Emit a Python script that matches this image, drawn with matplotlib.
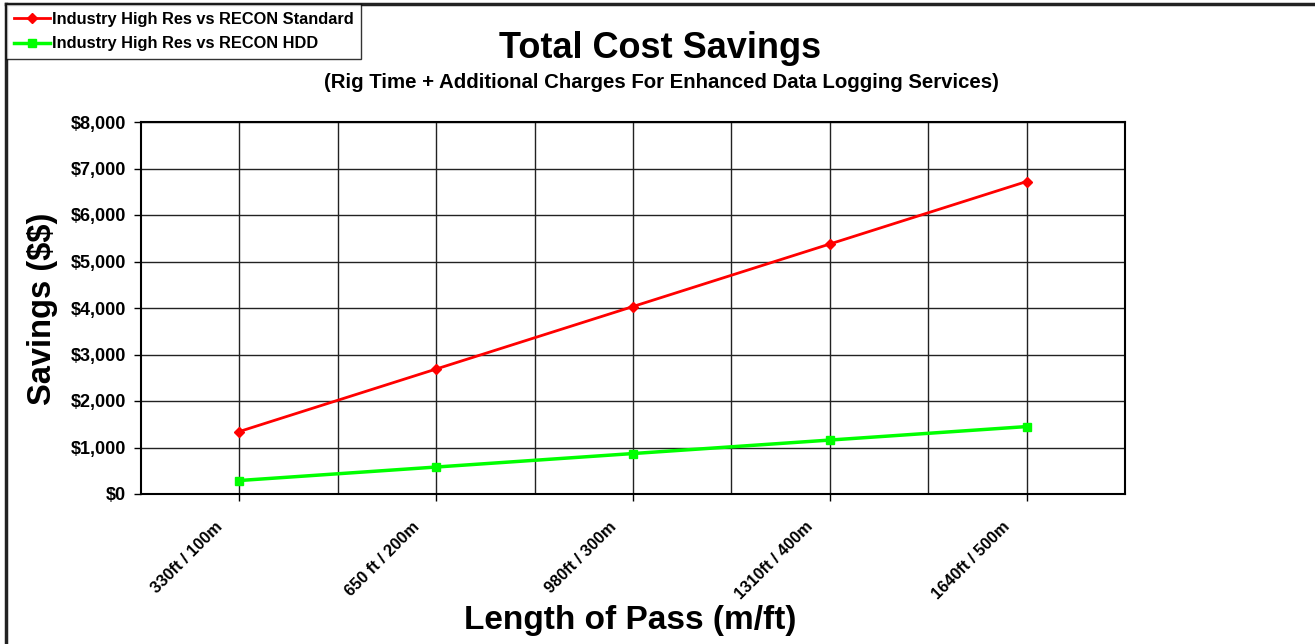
import numpy as np
import matplotlib.pyplot as plt
from matplotlib.lines import Line2D
from matplotlib.transforms import ScaledTranslation

plt.rcParams['font.family'] = ['Liberation Sans', 'DejaVu Sans']
plt.rcParams['font.weight'] = 'bold'
plt.rcParams['text.parse_math'] = False

# chart data
categories = ["330ft / 100m", "650 ft / 200m", "980ft / 300m", "1310ft / 400m", "1640ft / 500m"]
standard_savings = [1344, 2688, 4032, 5376, 6720]
hdd_savings = [290, 580, 870, 1160, 1450]
y_ticks = [0, 1000, 2000, 3000, 4000, 5000, 6000, 7000, 8000]

W, H = 1315, 644
fig = plt.figure(figsize=(W / 100, H / 100), dpi=100)
ax = fig.add_axes([141 / W, 150 / H, 984 / W, 372 / H])

x = np.arange(len(categories))
ax.plot(x, standard_savings, color="#FF0000", lw=2, marker="D", ms=5,
        label="Industry High Res vs RECON Standard")
ax.plot(x, hdd_savings, color="#00FF00", lw=2.5, marker="s", ms=6,
        label="Industry High Res vs RECON HDD")

ax.set_xlim(-0.5, len(categories) - 0.5)
ax.set_ylim(0, 8000)
ax.set_yticks(y_ticks)
ax.set_yticklabels([f"${v:,}" for v in y_ticks], fontsize=13, fontweight="bold")
ax.set_xticks(x)
ax.set_xticklabels(categories, rotation=45, ha="right", va="center",
                   rotation_mode="anchor", fontsize=11.8, fontweight="bold")
ax.set_xticks(x[:-1] + 0.5, minor=True)
ax.tick_params(axis="x", which="minor", length=0)
ax.tick_params(axis="both", which="major", length=5, width=1, direction="out", color="black")
ax.tick_params(axis="x", which="major", pad=17)
ax.tick_params(axis="y", which="major", pad=6)
shift = ScaledTranslation(-0.19, 0, fig.dpi_scale_trans)
for lab in ax.get_xticklabels():
    lab.set_transform(lab.get_transform() + shift)

ax.grid(True, which="major", color="#222222", lw=1)
ax.grid(True, which="minor", axis="x", color="#222222", lw=1)
ax.set_axisbelow(True)
for s in ax.spines.values():
    s.set_color("black")
    s.set_linewidth(1.5)

fig.text(43 / W, 1 - 309 / H, "Savings ($$)", rotation=90, ha="center", va="center",
         fontsize=23.5, fontweight="bold")
fig.text(630 / W, 1 - 620 / H, "Length of Pass (m/ft)", ha="center", va="center",
         fontsize=24, fontweight="bold")

fig.text(660 / W, 1 - 48 / H, "Total Cost Savings", ha="center", va="center",
         fontsize=26, fontweight="bold")
fig.text(661 / W, 1 - 83 / H,
         "(Rig Time + Additional Charges For Enhanced Data Logging Services)",
         ha="center", va="center", fontsize=14.7, fontweight="bold")

# figure border (top and left only visible)
fig.add_artist(Line2D([6 / W, 6 / W], [0, 1 - 4 / H], color="#222222", lw=2.5,
                      transform=fig.transFigure))
fig.add_artist(Line2D([6 / W, 1], [1 - 4 / H, 1 - 4 / H], color="#222222", lw=2.5,
                      transform=fig.transFigure))

leg = fig.legend(loc="upper left", bbox_to_anchor=(6 / W, 1 - 4 / H),
                 fontsize=11.8, frameon=True, fancybox=False, shadow=False,
                 borderpad=0.46, handlelength=2.2, handletextpad=0.12,
                 labelspacing=0.6, borderaxespad=0)
leg.get_frame().set_edgecolor("black")
leg.get_frame().set_linewidth(1)
for t in leg.get_texts():
    t.set_fontweight("bold")

fig.savefig("out.png", dpi=100, facecolor="white")
